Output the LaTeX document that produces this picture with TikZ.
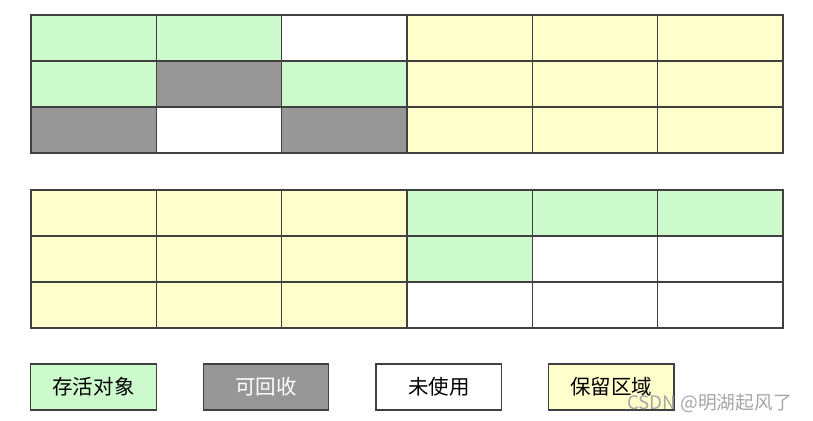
\documentclass[tikz,border=0pt]{standalone}
\usepackage{fontspec}
\setmainfont{Noto Sans CJK SC}
\usetikzlibrary{positioning}
\definecolor{livegreen}{HTML}{CCFACC}
\definecolor{deadgray}{HTML}{979797}
\definecolor{keepyellow}{HTML}{FFFFCC}
\tikzset{cell/.style={draw=black!75,line width=1.1pt,minimum width=3.76cm,minimum height=1.38cm,inner sep=0pt,outer sep=0pt},
         live/.style={cell,fill=livegreen},
         dead/.style={cell,fill=deadgray},
         free/.style={cell,fill=white},
         keep/.style={cell,fill=keepyellow},
         key node/.style={minimum width=3.76cm,minimum height=1.38cm,inner sep=0pt,draw=black!75,line width=1.1pt,font=\fontsize{17.5}{20}\selectfont},
            }

\begin{document}
\begin{tikzpicture}[x=0.03cm,y=-0.03cm]
 \useasboundingbox (0,0) rectangle (813,421);
 % before collection
 \foreach \c [count=\i] in {live,live,free,keep,keep,keep}
   \node[\c] (a1\i) at ({31+(\i-0.5)*125.33},38) {};
 \foreach \c [count=\i] in {live,dead,live,keep,keep,keep}
   \node[\c] (a2\i) at ({31+(\i-0.5)*125.33},84) {};
 \foreach \c [count=\i] in {dead,free,dead,keep,keep,keep}
   \node[\c] (a3\i) at ({31+(\i-0.5)*125.33},130) {};
 % after collection
 \foreach \c [count=\i] in {keep,keep,keep,live,live,live}
   \node[\c] (b1\i) at ({31+(\i-0.5)*125.33},213) {};
 \foreach \c [count=\i] in {keep,keep,keep,live,free,free}
   \node[\c] (b2\i) at ({31+(\i-0.5)*125.33},259) {};
 \foreach \c [count=\i] in {keep,keep,keep,free,free,free}
   \node[\c] (b3\i) at ({31+(\i-0.5)*125.33},305) {};

 % legend
 \node[key node,fill=livegreen] (liv) at (93.5,387) {存活对象};
 \node[key node,fill=deadgray,text=white] (rec)[right=1.38cm of liv] {可回收};
 \node[key node,fill=white] (unu)[right=1.38cm of rec] {未使用};
 \node[key node,fill=keepyellow] (res)[right=1.38cm of unu] {保留区域};

 \node[text=black!35,font=\fontsize{16}{18}\selectfont,anchor=west,inner sep=0pt] (wm) at (627,403) {CSDN @明湖起风了};
\end{tikzpicture}
\end{document}
